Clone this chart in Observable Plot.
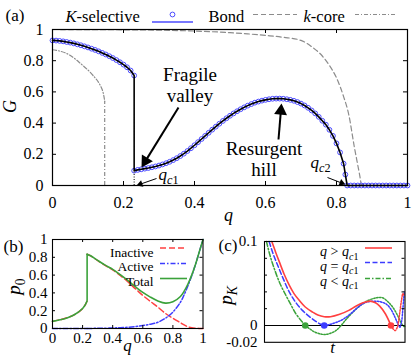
<!DOCTYPE html>
<html><head><meta charset="utf-8">
<script src="https://cdn.jsdelivr.net/npm/d3@7"></script>
<script src="https://cdn.jsdelivr.net/npm/@observablehq/plot@0.6"></script>
<style>
body{margin:0;background:#fff;}
#wrap{position:relative;width:415px;height:360px;overflow:hidden;background:#fff;}
#wrap svg text{font-family:"Liberation Serif",serif !important;}
</style></head><body><div id="wrap"></div>
<script>
const FONT = "Liberation Serif";

// ---------- Panel (a) data ----------
const kselQ1 = [0,0.01,0.02,0.03,0.04,0.05,0.06,0.07,0.08,0.09,0.10,0.11,0.12,0.13,0.14,0.15,0.16,0.17,0.18,0.19,0.20,0.21,0.22,0.23];
const kselG1 = [0.93,0.929,0.927,0.924,0.92,0.916,0.911,0.905,0.899,0.892,0.885,0.877,0.869,0.86,0.85,0.84,0.829,0.817,0.804,0.79,0.775,0.758,0.737,0.705];
const kselQ2 = [0.23,0.24,0.25,0.26,0.27,0.28,0.29,0.30,0.31,0.32,0.33,0.34,0.35,0.36,0.37,0.38,0.39,0.40,0.41,0.42,0.43,0.44,0.45,0.46,0.47,0.48,0.49,0.50,0.51,0.52,0.53,0.54,0.55,0.56,0.57,0.58,0.59,0.60,0.61,0.62,0.63,0.64,0.65,0.66,0.67,0.68,0.69,0.70,0.71,0.72,0.73,0.74,0.75,0.76,0.77,0.78,0.79,0.80,0.81,0.82,0.825,0.83,0.84,0.85,0.86,0.87,0.88,0.89,0.90,0.91,0.92,0.93,0.94,0.95,0.96,0.97,0.98,0.99,1.0];
const kselG2 = [0.095,0.100,0.104,0.108,0.112,0.117,0.122,0.128,0.135,0.143,0.152,0.163,0.175,0.189,0.204,0.221,0.239,0.258,0.278,0.298,0.318,0.338,0.358,0.377,0.396,0.414,0.431,0.447,0.462,0.476,0.489,0.501,0.512,0.522,0.531,0.538,0.544,0.549,0.553,0.556,0.557,0.557,0.556,0.553,0.549,0.543,0.535,0.525,0.513,0.498,0.481,0.462,0.440,0.415,0.390,0.357,0.318,0.270,0.212,0.140,0.07,0,0,0,0,0,0,0,0,0,0,0,0,0,0,0,0,0,0];
const bondQ = [0,0.1,0.2,0.3,0.4,0.5,0.55,0.6,0.65,0.7,0.73,0.76,0.78,0.8,0.82,0.835,0.85,0.86,0.865,0.87];
const bondG = [1.0,0.999,0.998,0.996,0.99,0.98,0.972,0.962,0.95,0.93,0.89,0.83,0.77,0.69,0.57,0.45,0.25,0.13,0.07,0];
const kcoreQ = [0,0.02,0.04,0.06,0.08,0.1,0.12,0.13,0.14,0.145,0.147];
const kcoreG = [0.87,0.862,0.846,0.818,0.78,0.74,0.69,0.66,0.615,0.57,0.54];
const qcOne = 0.23, qcTwo = 0.83;
const aTicks = [0,0.2,0.4,0.6,0.8,1];

// ---------- Panel (b) data ----------
const bQ1 = [0,0.05,0.1,0.15,0.2,0.22,0.23];
const bTotal1 = [0.08,0.098,0.122,0.16,0.225,0.275,0.31];
const bInactive1 = [0.08,0.098,0.122,0.159,0.224,0.274,0.309];
const bActive1 = [0,0,0,0.001,0.001,0.001,0.001];
const bQ2 = [0.23,0.25,0.3,0.35,0.4,0.45,0.5,0.55,0.6,0.65,0.7,0.75,0.8,0.85,0.875,0.9,0.925,0.95,0.975,1.0];
const bTotal2 = [0.835,0.82,0.765,0.712,0.665,0.605,0.54,0.47,0.405,0.353,0.31,0.285,0.30,0.36,0.42,0.50,0.60,0.72,0.86,1.0];
const bInactive2 = [0.834,0.819,0.763,0.709,0.659,0.596,0.526,0.448,0.372,0.305,0.24,0.17,0.115,0.065,0.04,0.02,0.008,0.003,0.001,0];
const bActive2 = [0.001,0.001,0.002,0.003,0.006,0.009,0.014,0.022,0.033,0.048,0.07,0.115,0.185,0.295,0.38,0.48,0.592,0.717,0.859,1.0];
const bTicks = [0,0.2,0.4,0.6,0.8,1];

// ---------- Panel (c) data ----------
const cRedT = [0.052,0.08,0.105,0.14,0.176,0.21,0.247,0.29,0.342,0.38,0.425,0.47,0.53,0.6,0.65,0.7,0.75,0.79,0.82,0.86,0.9];
const cRedP = [0.1,0.087,0.076,0.061,0.048,0.038,0.03,0.022,0.016,0.0125,0.0105,0.0105,0.013,0.018,0.023,0.027,0.029,0.027,0.023,0.014,0];
const cRedDotT = [0.9,0.915,0.93,0.945,0.96,0.975,0.985,0.993];
const cRedDotP = [0,-0.004,-0.006,-0.002,0.012,0.03,0.038,0.036];
const cBlueT = [0.033,0.06,0.093,0.13,0.176,0.22,0.27,0.32,0.365,0.4,0.425];
const cBlueP = [0.1,0.086,0.072,0.057,0.04,0.028,0.018,0.0105,0.005,0.0015,0];
const cBlueDotT = [0.425,0.47,0.53,0.565,0.62,0.683,0.73,0.78,0.83,0.87,0.897,0.92,0.944,0.963,0.975,0.985,0.995];
const cBlueDotP = [0,0.0015,0.005,0.008,0.015,0.024,0.028,0.029,0.028,0.025,0.02,0.013,0.004,-0.002,0.004,0.02,0.04];
const cGreenT = [0.014,0.04,0.069,0.11,0.152,0.19,0.223,0.26,0.29];
const cGreenP = [0.1,0.083,0.068,0.05,0.036,0.024,0.014,0.006,0];
const cGreenDotT = [0.29,0.33,0.365,0.4,0.43,0.47,0.507,0.54,0.58,0.63,0.683,0.74,0.8,0.84,0.88,0.92,0.95,0.97,0.99,0.998];
const cGreenDotP = [0,-0.005,-0.0083,-0.0102,-0.0107,-0.0092,-0.0062,-0.001,0.007,0.016,0.024,0.03,0.033,0.033,0.028,0.02,0.011,0.004,-0.001,-0.001];
const cCrossT = [0.9,0.425,0.29];
const cCrossP = [0,0,0];
const cTicks = [-0.02,0,0.02,0.04,0.06,0.08,0.1];
const cTickLabels = ["-0.02","0","","","","","0.1"];

// colours
const RED = "#ff4040", BLUE = "#3c3cff", GREEN = "#3aa23a", GRAY = "#8c8c8c", CIRC = "#4b4bff";

// ---------- helpers ----------
const pts = (xs, ys) => xs.map((x, i) => ({x, y: ys[i]}));
// page-pixel -> data converters (layout only)
const A = {x: px => (px - 52) / 355, y: py => (185 - py) / 156};
const B = {x: px => (px - 52) / 150.5, y: py => (328 - py) / 89};
const C = {x: px => (px - 264) / 140.5, y: py => (325 - py) / 840};

function txt(P, px, py, s, o = {}) {
  return Plot.text([s], {x: P.x(px), y: P.y(py), text: d => d, lineAnchor: "bottom", textAnchor: "start",
    fontFamily: FONT, fontSize: 16, fill: "black", ...o});
}
function arrow(P, x0, y0, x1, y1, r, sw) {
  const dx = x1 - x0, dy = y1 - y0, L = Math.hypot(dx, dy);
  const ux = dx / L, uy = dy / L, td = 1.555 * r;
  const cx = x1 - ux * td, cy = y1 - uy * td;
  const ang = Math.atan2(dx, -dy) * 180 / Math.PI;
  return [
    Plot.link([0], {x1: P.x(x0), y1: P.y(y0), x2: P.x(cx), y2: P.y(cy), stroke: "black", strokeWidth: sw}),
    Plot.dot([0], {x: P.x(cx), y: P.y(cy), r, symbol: "triangle", fill: "black", stroke: "none", rotate: ang})
  ];
}
function sample(P, x0, x1, py, o) {
  return Plot.ruleY([P.y(py)], {x1: P.x(x0), x2: P.x(x1), ...o});
}
function richify(svg) {
  svg.querySelectorAll("text").forEach(t => {
    const s = t.textContent;
    if (!/[*_]/.test(s) || t.querySelector("tspan")) return;
    const fs = parseFloat(getComputedStyle(t).fontSize) || 16;
    const runs = []; let it = false, sub = false, buf = "";
    const push = () => { if (buf) { runs.push({s: buf, it, sub}); buf = ""; } };
    for (let i = 0; i < s.length; i++) {
      const c = s[i];
      if (c === "*") { push(); it = !it; }
      else if (c === "_" && s[i + 1] === "{") { push(); sub = true; i++; }
      else if (c === "}" && sub) { push(); sub = false; }
      else buf += c;
    }
    push();
    t.textContent = "";
    let cur = false;
    for (const r of runs) {
      const ts = document.createElementNS("http://www.w3.org/2000/svg", "tspan");
      ts.textContent = r.s;
      if (r.it) ts.setAttribute("font-style", "italic");
      if (r.sub) ts.setAttribute("font-size", (fs * 0.72) + "px");
      if (r.sub !== cur) { ts.setAttribute("dy", (r.sub ? 0.27 * fs : -0.27 * fs) + "px"); cur = r.sub; }
      t.appendChild(ts);
    }
  });
}
function frameTicks(xt, yt, lx, ly) {
  const m = [];
  if (xt.length) {
    m.push(Plot.ruleX(xt, {x: d => d, y1: 0, y2: ly, stroke: "black"}));
    m.push(Plot.ruleX(xt, {x: d => d, y1: 1, y2: 1 - ly, stroke: "black"}));
  }
  m.push(Plot.ruleY(yt, {y: d => d, x1: 0, x2: lx, stroke: "black"}));
  m.push(Plot.ruleY(yt, {y: d => d, x1: 1, x2: 1 - lx, stroke: "black"}));
  return m;
}

const wrap = document.getElementById("wrap");
function place(svg, left, top) {
  svg.style.position = "absolute";
  svg.style.left = left + "px";
  svg.style.top = top + "px";
  svg.style.background = "transparent";
  svg.style.overflow = "visible";
  svg.style.maxWidth = "none";
  wrap.appendChild(svg);
  richify(svg);
}

// ---------- Panel (a) ----------
const kselRows = pts(kselQ1, kselG1).concat(pts(kselQ2, kselG2));
const plotA = Plot.plot({
  width: 415, height: 222,
  marginLeft: 52, marginRight: 8, marginTop: 29, marginBottom: 37,
  x: {domain: [0, 1], axis: null},
  y: {domain: [0, 1], axis: null},
  style: {fontFamily: FONT, background: "transparent"},
  marks: [
    Plot.line(pts(kcoreQ, kcoreG), {x: "x", y: "y", stroke: GRAY, strokeWidth: 1.2, strokeDasharray: "4,2,1,2", curve: "catmull-rom"}),
    Plot.ruleX([{x: kcoreQ[kcoreQ.length - 1], y: kcoreG[kcoreG.length - 1]}], {x: "x", y1: 0, y2: "y", stroke: GRAY, strokeWidth: 1.2, strokeDasharray: "4,2,1,2"}),
    Plot.line(pts(bondQ, bondG), {x: "x", y: "y", stroke: GRAY, strokeWidth: 1.2, strokeDasharray: "5,3", curve: "monotone-x"}),
    Plot.dot(kselRows, {x: "x", y: "y", r: 2.4, stroke: CIRC, strokeWidth: 1, fill: "none"}),
    Plot.line(kselRows, {x: "x", y: "y", stroke: "black", strokeWidth: 1.6}),
    Plot.ruleX([qcOne], {x: d => d, y1: 0, y2: kselG2[0], stroke: "black", strokeDasharray: "1,1.5", strokeWidth: 1}),
    Plot.frame({stroke: "black", strokeWidth: 1.2}),
    ...frameTicks(aTicks.slice(1, -1), aTicks.slice(1, -1), 4 / 355, 4 / 156),
    Plot.text(aTicks, {x: d => d, frameAnchor: "bottom", lineAnchor: "top", dy: 11, text: d => String(d), fontFamily: FONT, fontSize: 16}),
    Plot.text(aTicks, {y: d => d, frameAnchor: "left", textAnchor: "end", dx: -9, text: d => String(d), fontFamily: FONT, fontSize: 16}),
    txt(A, 10, 106, "*G*", {rotate: -90, lineAnchor: "middle", textAnchor: "middle", fontSize: 18}),
    txt(A, 228, 220, "*q*", {textAnchor: "middle", fontSize: 18}),
    // legend
    txt(A, 5, 20, "(a)", {fontSize: 17}),
    txt(A, 65, 21, "*K*-selective", {fontSize: 16.5}),
    sample(A, 152, 193, 21.5, {stroke: CIRC, strokeWidth: 1.3}),
    Plot.dot([0], {x: A.x(172), y: A.y(14), r: 2.4, stroke: CIRC, strokeWidth: 1, fill: "none"}),
    txt(A, 208, 21, "Bond", {fontSize: 16.5}),
    sample(A, 253, 297, 14, {stroke: GRAY, strokeWidth: 1.2, strokeDasharray: "5,3"}),
    txt(A, 303, 21, "*k*-core", {fontSize: 16.5}),
    sample(A, 355, 397, 14, {stroke: GRAY, strokeWidth: 1.2, strokeDasharray: "4,2,1,2"}),
    // annotations
    txt(A, 189.5, 80, "Fragile", {textAnchor: "middle", fontSize: 19}),
    txt(A, 189.5, 101, "valley", {textAnchor: "middle", fontSize: 19}),
    ...arrow(A, 178, 107, 141, 167, 4.8, 2),
    txt(A, 263.5, 154, "Resurgent", {textAnchor: "middle", fontSize: 19}),
    txt(A, 263.5, 175, "hill", {textAnchor: "middle", fontSize: 19}),
    ...arrow(A, 278, 139, 281, 103, 4.8, 2),
    txt(A, 158, 179, "*q*_{*c*1}", {fontSize: 17}),
    ...arrow(A, 156, 178, 136, 185, 2.6, 1),
    txt(A, 310, 167, "*q*_{*c*2}", {fontSize: 17}),
    ...arrow(A, 327, 177, 345, 184, 2.6, 1)
  ]
});
place(plotA, 0, 0);

// ---------- Panel (b) ----------
const plotB = Plot.plot({
  width: 208, height: 138,
  marginLeft: 52, marginRight: 5.5, marginTop: 17, marginBottom: 32,
  x: {domain: [0, 1], axis: null},
  y: {domain: [0, 1], axis: null},
  style: {fontFamily: FONT, background: "transparent"},
  marks: [
    Plot.line(pts(bQ1, bInactive1), {x: "x", y: "y", stroke: RED, strokeWidth: 1.5, strokeDasharray: "6,3", curve: "catmull-rom"}),
    Plot.line(pts(bQ2, bInactive2), {x: "x", y: "y", stroke: RED, strokeWidth: 1.5, strokeDasharray: "6,3", curve: "catmull-rom"}),
    Plot.line(pts(bQ1, bActive1), {x: "x", y: "y", stroke: BLUE, strokeWidth: 1.5, strokeDasharray: "5,2,1.5,2", curve: "catmull-rom"}),
    Plot.line(pts(bQ2, bActive2), {x: "x", y: "y", stroke: BLUE, strokeWidth: 1.5, strokeDasharray: "5,2,1.5,2", curve: "catmull-rom"}),
    Plot.line(pts(bQ1, bTotal1), {x: "x", y: "y", stroke: GREEN, strokeWidth: 1.6, curve: "catmull-rom"}),
    Plot.ruleX([0], {x: bQ1[bQ1.length - 1], y1: bTotal1[bTotal1.length - 1], y2: bTotal2[0], stroke: GREEN, strokeWidth: 1.6}),
    Plot.line(pts(bQ2, bTotal2), {x: "x", y: "y", stroke: GREEN, strokeWidth: 1.6, curve: "catmull-rom"}),
    Plot.frame({stroke: "black", strokeWidth: 1.1}),
    ...frameTicks(bTicks.slice(1, -1), bTicks.slice(1, -1), 3 / 150.5, 3 / 89),
    Plot.text(bTicks, {x: d => d, frameAnchor: "bottom", lineAnchor: "top", dy: 4, text: d => String(d), fontFamily: FONT, fontSize: 15}),
    Plot.text(bTicks, {y: d => d, frameAnchor: "left", textAnchor: "end", dx: -5, text: d => String(d), fontFamily: FONT, fontSize: 15}),
    txt(B, 3, 251, "(b)", {fontSize: 17}),
    txt(B, 127, 350, "*q*", {textAnchor: "middle", fontSize: 17}),
    txt(B, 13, 286, "*p*_{0}", {rotate: -90, lineAnchor: "middle", textAnchor: "middle", fontSize: 19}),
    txt(B, 153, 256, "Inactive", {textAnchor: "end", fontSize: 13.5}),
    sample(B, 160, 187, 247.5, {stroke: RED, strokeWidth: 1.5, strokeDasharray: "6,3"}),
    txt(B, 153, 270.5, "Active", {textAnchor: "end", fontSize: 13.5}),
    sample(B, 160, 187, 263, {stroke: BLUE, strokeWidth: 1.5, strokeDasharray: "5,2,1.5,2"}),
    txt(B, 153, 285, "Total", {textAnchor: "end", fontSize: 13.5}),
    sample(B, 160, 187, 278, {stroke: GREEN, strokeWidth: 1.6})
  ]
});
place(plotB, 0, 222);

// ---------- Panel (c) ----------
const plotC = Plot.plot({
  width: 207, height: 138,
  marginLeft: 56, marginRight: 10.5, marginTop: 19, marginBottom: 18.2,
  x: {domain: [0, 1], axis: null},
  y: {domain: [-0.02, 0.1], axis: null},
  style: {fontFamily: FONT, background: "transparent"},
  marks: [
    Plot.ruleY([0], {stroke: "black", strokeWidth: 1.2}),
    Plot.line(pts(cGreenDotT, cGreenDotP), {x: "x", y: "y", stroke: GREEN, strokeWidth: 1.5, strokeDasharray: "1.5,1.5", curve: "catmull-rom"}),
    Plot.line(pts(cBlueDotT, cBlueDotP), {x: "x", y: "y", stroke: BLUE, strokeWidth: 1.5, strokeDasharray: "1.5,1.5", curve: "catmull-rom"}),
    Plot.line(pts(cRedDotT, cRedDotP), {x: "x", y: "y", stroke: RED, strokeWidth: 1.5, strokeDasharray: "1.5,1.5", curve: "catmull-rom"}),
    Plot.line(pts(cGreenT, cGreenP), {x: "x", y: "y", stroke: GREEN, strokeWidth: 1.5, strokeDasharray: "5,2,1.5,2", curve: "catmull-rom"}),
    Plot.line(pts(cBlueT, cBlueP), {x: "x", y: "y", stroke: BLUE, strokeWidth: 1.5, strokeDasharray: "5,2.5", curve: "catmull-rom"}),
    Plot.line(pts(cRedT, cRedP), {x: "x", y: "y", stroke: RED, strokeWidth: 1.6, curve: "catmull-rom"}),
    Plot.dot(pts(cCrossT, cCrossP), {x: "x", y: "y", r: 3.3, fill: [RED, BLUE, GREEN], stroke: "none"}),
    Plot.frame({stroke: "black", strokeWidth: 1.1}),
    ...frameTicks([], cTicks.slice(1, -1), 3 / 140.5, 0),
    Plot.text(cTicks, {y: d => d, frameAnchor: "left", textAnchor: "end", dx: -7, text: (d, i) => cTickLabels[i], fontFamily: FONT, fontSize: 15}),
    txt(C, 218, 250, "(c)", {fontSize: 17}),
    txt(C, 332, 352, "*t*", {textAnchor: "middle", fontSize: 17}),
    txt(C, 225, 295, "*p*_{*K*}", {rotate: -90, lineAnchor: "middle", textAnchor: "middle", fontSize: 19}),
    txt(C, 358, 255.5, "*q* > *q*_{*c*1}", {textAnchor: "end", fontSize: 14}),
    sample(C, 365, 392, 247.5, {stroke: RED, strokeWidth: 1.6}),
    txt(C, 358, 270, "*q* = *q*_{*c*1}", {textAnchor: "end", fontSize: 14}),
    sample(C, 365, 392, 262, {stroke: BLUE, strokeWidth: 1.5, strokeDasharray: "5,2.5"}),
    txt(C, 358, 285, "*q* < *q*_{*c*1}", {textAnchor: "end", fontSize: 14}),
    sample(C, 365, 392, 278, {stroke: GREEN, strokeWidth: 1.5, strokeDasharray: "5,2,1.5,2"})
  ]
});
place(plotC, 208, 222);
</script></body></html>
